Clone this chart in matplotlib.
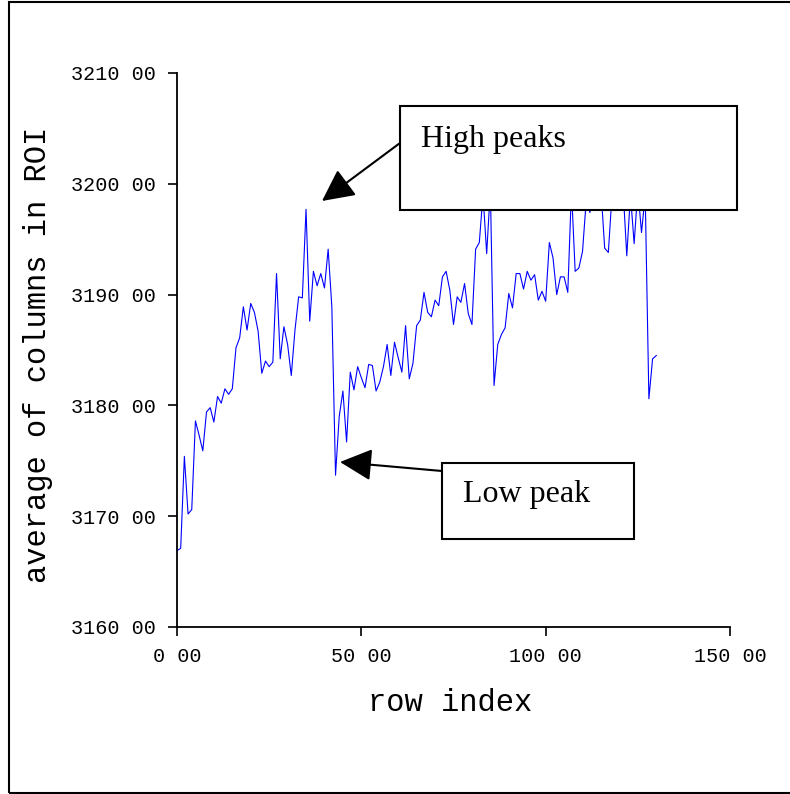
import numpy as np
import matplotlib
matplotlib.use('Agg')
import matplotlib.pyplot as plt
from matplotlib.patches import Rectangle

# average of the columns in the ROI, one value per row
row_avg = [
    3166.9, 3167.1, 3175.4, 3170.2, 3170.6, 3178.6, 3177.3, 3175.9, 3179.4, 3179.8,
    3178.5, 3180.8, 3180.2, 3181.5, 3181.0, 3181.5, 3185.2, 3186.1, 3188.9, 3186.8,
    3189.2, 3188.4, 3186.7, 3182.9, 3184.0, 3183.5, 3183.9, 3191.9, 3184.2, 3187.1,
    3185.5, 3182.7, 3186.8, 3189.8, 3189.7, 3197.7, 3187.6, 3192.1, 3190.8, 3191.9,
    3190.6, 3194.1, 3188.9, 3173.7, 3179.0, 3181.3, 3176.7, 3183.0, 3181.4, 3183.5,
    3182.5, 3181.6, 3183.7, 3183.6, 3181.3, 3182.1, 3183.5, 3185.5, 3182.7, 3185.7,
    3184.3, 3183.0, 3187.2, 3182.4, 3183.8, 3187.2, 3187.7, 3190.2, 3188.4, 3188.0,
    3189.5, 3189.0, 3191.6, 3192.1, 3190.4, 3187.3, 3189.8, 3189.3, 3191.0, 3188.3,
    3187.3, 3194.1, 3194.7, 3199.0, 3193.7, 3199.5, 3181.8, 3185.5, 3186.4, 3187.0,
    3190.1, 3188.8, 3191.9, 3191.9, 3190.5, 3192.1, 3191.3, 3191.8, 3189.5, 3190.3,
    3189.4, 3194.7, 3193.3, 3190.0, 3191.6, 3191.6, 3190.2, 3199.5, 3192.1, 3192.4,
    3193.9, 3198.5, 3197.4, 3200.0, 3201.0, 3199.5, 3194.2, 3193.8, 3199.0, 3200.5,
    3201.5, 3199.5, 3193.5, 3199.0, 3194.6, 3199.5, 3195.6, 3199.0, 3180.6, 3184.2,
    3184.5,
]
row_index = np.arange(len(row_avg))

xticks = [0, 50, 100, 150]
xtick_labels = ['0 00', '50 00', '100 00', '150 00']
yticks = [3160, 3170, 3180, 3190, 3200, 3210]
ytick_labels = ['3160 00', '3170 00', '3180 00', '3190 00', '3200 00', '3210 00']

W, H = 790, 794
mono = 'Liberation Mono'
serif = 'Liberation Serif'

fig = plt.figure(figsize=(W/100, H/100), dpi=100)
ax = fig.add_axes([177/W, 1-627/H, (730-177)/W, (627-73)/H])

ax.plot(row_index, row_avg, color='#0000ff', lw=0.8)
ax.set_xlim(0, 150)
ax.set_ylim(3160, 3210)
ax.set_xticks(xticks)
ax.set_xticklabels(xtick_labels)
ax.set_yticks(yticks)
ax.set_yticklabels(ytick_labels)
for lab in ax.get_xticklabels() + ax.get_yticklabels():
    lab.set_fontfamily(mono)
    lab.set_fontsize(14.5)
ax.tick_params(direction='out', length=6.5, width=1.2, color='black')
ax.tick_params(axis='y', pad=9)
ax.tick_params(axis='x', pad=8)
for s in ['top', 'right']:
    ax.spines[s].set_visible(False)
for s in ['left', 'bottom']:
    ax.spines[s].set_linewidth(1.3)

fig.text(38/W, 1-355/H, 'average of columns in ROI', rotation=90,
         ha='center', va='center', fontfamily=mono, fontsize=22)
fig.text(450/W, 1-703/H, 'row index', ha='center', va='center',
         fontfamily=mono, fontsize=22)

# annotation boxes, drawn over the line
def px(x, y):
    return (x/W, 1-y/H)

for (x0, y0, x1, y1) in [(400, 106, 737, 210), (442, 463, 634, 539)]:
    fig.patches.append(Rectangle(px(x0, y1), (x1-x0)/W, (y1-y0)/H,
                                 transform=fig.transFigure, facecolor='white',
                                 edgecolor='black', lw=1.5, zorder=5))

fig.text(*px(421, 147), 'High peaks', ha='left', va='baseline',
         fontfamily=serif, fontsize=23, zorder=6)
fig.text(*px(463, 502), 'Low peak', ha='left', va='baseline',
         fontfamily=serif, fontsize=23, zorder=6)

arrow = dict(arrowstyle='-|>,head_length=0.9,head_width=0.45', color='black',
             lw=1.5, shrinkA=0, shrinkB=0)
ax.annotate('', xy=px(322, 201), xycoords='figure fraction',
            xytext=px(400, 143), textcoords='figure fraction',
            arrowprops=dict(arrow, mutation_scale=22), zorder=6)
ax.annotate('', xy=px(340, 462), xycoords='figure fraction',
            xytext=px(442, 471), textcoords='figure fraction',
            arrowprops=dict(arrow, mutation_scale=22), zorder=6)

# page frame (left, top and bottom visible)
fig.patches.append(Rectangle((9/W, 1/H), 1.0, (792-1)/H, transform=fig.transFigure,
                             fill=False, edgecolor='black', lw=1.5))

fig.savefig('out.png', dpi=100)
